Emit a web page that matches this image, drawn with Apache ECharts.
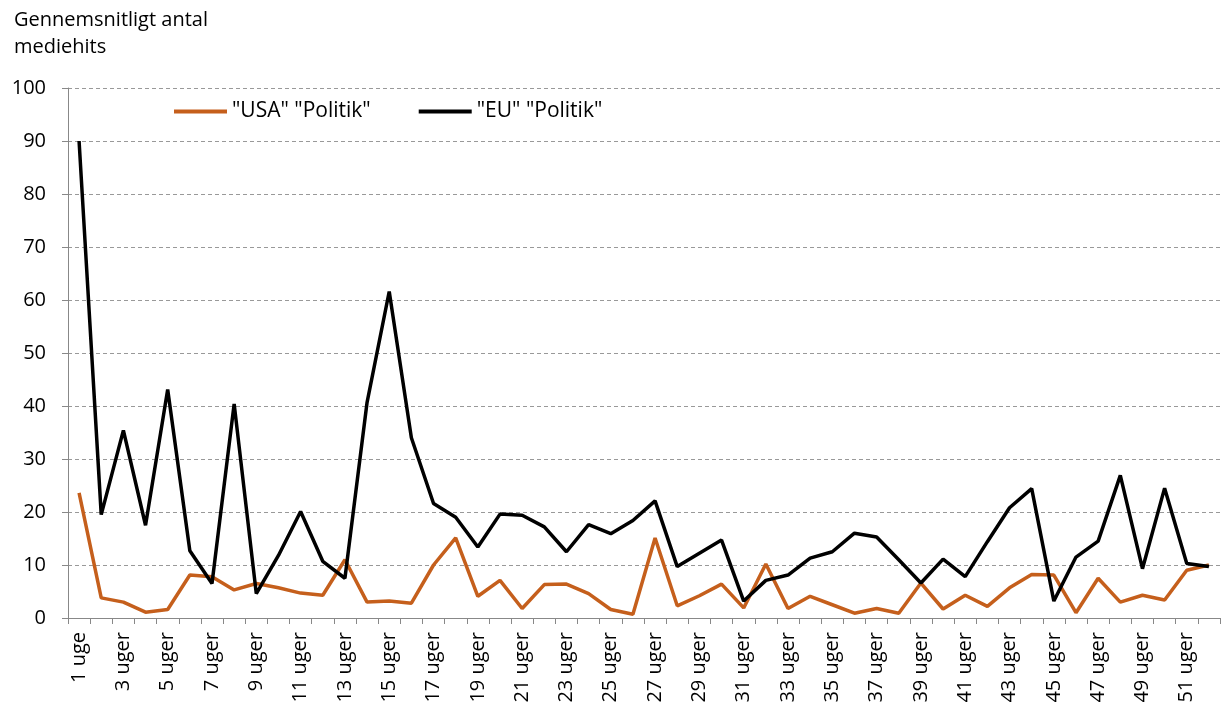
<!DOCTYPE html>
<html>
<head>
<meta charset="utf-8">
<title>Mediehits</title>
<script src="https://cdn.jsdelivr.net/npm/echarts@6/dist/echarts.min.js"></script>
<style>
  html, body { margin: 0; padding: 0; background: #fff; }
  #chart { width: 1221px; height: 711px; }
</style>
</head>
<body>
<div id="chart"></div>
<script>
const weeks = Array.from({ length: 52 }, (_, i) => (i === 0 ? '1 uge' : `${i + 1} uger`));

const usaPolitik = [
  23.6, 3.8, 3.0, 1.1, 1.6, 8.1, 7.8, 5.3, 6.5, 5.7,
  4.7, 4.3, 11.0, 3.0, 3.2, 2.8, 10.0, 15.1, 4.1, 7.1,
  1.8, 6.3, 6.4, 4.6, 1.6, 0.7, 15.1, 2.3, 4.2, 6.4,
  1.9, 10.2, 1.8, 4.1, 2.5, 0.9, 1.8, 0.9, 6.6, 1.7,
  4.3, 2.2, 5.7, 8.2, 8.1, 1.0, 7.5, 3.0, 4.3, 3.4,
  9.0, 10.0
];

const euPolitik = [
  90.0, 19.5, 35.4, 17.5, 43.1, 12.7, 6.5, 40.4, 4.6, 11.8,
  20.1, 10.7, 7.5, 40.7, 61.6, 34.0, 21.6, 19.0, 13.4, 19.6,
  19.4, 17.2, 12.5, 17.6, 15.9, 18.4, 22.1, 9.7, 12.2, 14.7,
  3.2, 7.1, 8.1, 11.3, 12.5, 16.0, 15.3, 11.0, 6.6, 11.1,
  7.8, 14.4, 20.8, 24.4, 3.2, 11.5, 14.5, 26.9, 9.3, 24.5,
  10.3, 9.7
];

const FONT = 'Open Sans';
const chart = echarts.init(document.getElementById('chart'));

chart.setOption({
  animation: false,
  textStyle: { fontFamily: FONT, color: '#000' },
  title: {
    text: 'Gennemsnitligt antal\nmediehits',
    left: 9,
    top: 2,
    textStyle: { fontFamily: FONT, fontSize: 20, fontWeight: 'normal', color: '#000', lineHeight: 27 },
  },
  legend: {
    left: 169,
    top: 96,
    itemGap: 48,
    itemWidth: 53,
    itemHeight: 4,
    icon: 'rect',
    textStyle: { fontFamily: FONT, fontSize: 21, color: '#000' },
    data: ['"USA" "Politik"', '"EU" "Politik"'],
  },
  grid: { left: 68, right: 1, top: 88, bottom: 93, containLabel: false },
  xAxis: {
    type: 'category',
    data: weeks,
    boundaryGap: true,
    axisLine: { lineStyle: { color: '#888', width: 1 } },
    axisTick: { show: true, interval: 0, length: 6, lineStyle: { color: '#888' } },
    axisLabel: {
      interval: 1,
      rotate: 90,
      margin: 14,
      fontFamily: FONT,
      fontSize: 20,
      color: '#000',
    },
  },
  yAxis: {
    type: 'value',
    min: 0,
    max: 100,
    interval: 10,
    axisLine: { show: true, lineStyle: { color: '#888', width: 1 } },
    axisTick: { show: true, length: 6, lineStyle: { color: '#888' } },
    axisLabel: { margin: 22, fontFamily: FONT, fontSize: 20, color: '#000' },
    splitLine: { lineStyle: { color: '#999', type: [4, 3], width: 1 } },
  },
  series: [
    {
      name: '"USA" "Politik"',
      type: 'line',
      data: usaPolitik,
      symbol: 'none',
      itemStyle: { color: '#C55F1C' },
      lineStyle: { color: '#C55F1C', width: 3.5 },
    },
    {
      name: '"EU" "Politik"',
      type: 'line',
      data: euPolitik,
      symbol: 'none',
      itemStyle: { color: '#000' },
      lineStyle: { color: '#000', width: 3.5 },
    },
  ],
});
</script>
</body>
</html>
